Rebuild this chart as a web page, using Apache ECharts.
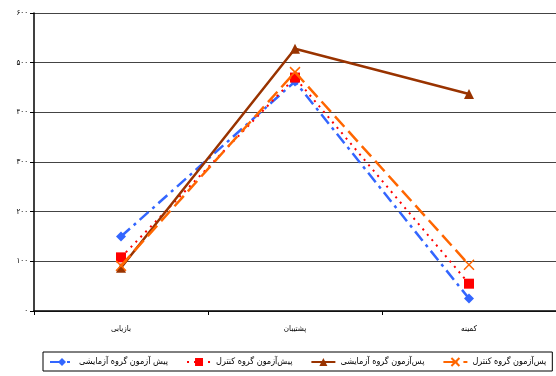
<!DOCTYPE html>
<html><head><meta charset="utf-8">
<script src="https://cdn.jsdelivr.net/npm/echarts@6/dist/echarts.min.js"></script>
<style>html,body{margin:0;padding:0;background:#fff}#c{width:556px;height:376px}</style>
</head><body><div id="c"></div>
<script>
const categories = ['بازیابی', 'پشتیبان', 'کمینه'];
const yTickLabels = ['۰', '۱۰۰', '۲۰۰', '۳۰۰', '۴۰۰', '۵۰۰', '۶۰۰'];
const seriesNames = ['پیش آزمون گروه آزمایشی', 'پیش‌آزمون گروه کنترل', 'پس‌آزمون گروه آزمایشی', 'پس‌آزمون گروه کنترل'];
const preExperimental = [150, 462, 25];
const preControl = [108, 470, 55];
const postExperimental = [87, 528, 437];
const postControl = [91, 481, 93];

const FONT = '"DejaVu Sans Condensed", "DejaVu Sans", sans-serif';
const chart = echarts.init(document.getElementById('c'), null, {renderer: 'canvas'});
const xPath = 'path://M0,0L10,10M10,0L0,10';
chart.setOption({
  backgroundColor: '#fff',
  animation: false,
  grid: {left: 34, top: 13, bottom: 65, right: 0},
  xAxis: {
    type: 'category', data: categories, boundaryGap: true,
    axisLine: {lineStyle: {color: '#000', width: 1.5}},
    axisTick: {show: true, length: 4, lineStyle: {color: '#000'}},
    axisLabel: {fontFamily: FONT, fontSize: 8, color: '#000', margin: 14}
  },
  yAxis: {
    type: 'value', min: 0, max: 600, interval: 100,
    axisLine: {show: true, lineStyle: {color: '#000', width: 1.5}},
    axisTick: {show: true, length: 4, lineStyle: {color: '#000'}},
    splitLine: {lineStyle: {color: '#444', width: 1}},
    axisLabel: {fontFamily: FONT, fontSize: 8, color: '#000', margin: 6,
      formatter: v => yTickLabels[Math.round(v / 100)]}
  },
  legend: {
    left: 43, top: 352, itemGap: 18, itemWidth: 24, itemHeight: 10,
    padding: [5, 6, 4, 6], borderColor: '#000', borderWidth: 1,
    textStyle: {fontFamily: FONT, fontSize: 9, color: '#000'},
    data: seriesNames
  },
  series: [
    {name: seriesNames[0], type: 'line', data: preExperimental, symbol: 'diamond', symbolSize: 10,
      lineStyle: {color: '#3366FF', width: 2.5, type: [12, 5, 3, 5]}, itemStyle: {color: '#3366FF'}, z: 2},
    {name: seriesNames[1], type: 'line', data: preControl, symbol: 'rect', symbolSize: 10,
      lineStyle: {color: '#FF0000', width: 2, type: [2, 5]}, itemStyle: {color: '#FF0000'}, z: 3},
    {name: seriesNames[2], type: 'line', data: postExperimental, symbol: 'triangle', symbolSize: 10,
      lineStyle: {color: '#993300', width: 2.5}, itemStyle: {color: '#993300'}, z: 4},
    {name: seriesNames[3], type: 'line', data: postControl, symbol: xPath, symbolSize: 10,
      lineStyle: {color: '#FF6600', width: 2.5, type: [14, 6]},
      itemStyle: {color: '#FF6600', borderColor: '#FF6600', borderWidth: 1.5}, z: 5}
  ]
});
</script></body></html>
